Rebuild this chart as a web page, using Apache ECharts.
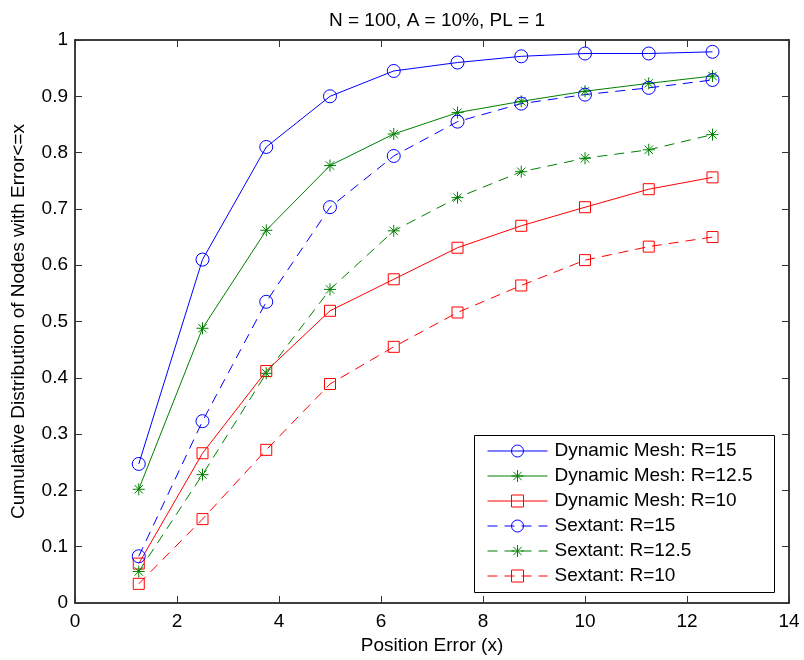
<!DOCTYPE html>
<html>
<head>
<meta charset="utf-8">
<script src="https://cdn.jsdelivr.net/npm/echarts@6/dist/echarts.min.js"></script>
<style>html,body{margin:0;padding:0;background:#fff}#c{width:804px;height:660px}</style>
</head>
<body>
<div id="c"></div>
<script>
const xValues = [1.25, 2.5, 3.75, 5, 6.25, 7.5, 8.75, 10, 11.25, 12.5];
const dmR15 = [0.247, 0.610, 0.810, 0.900, 0.945, 0.960, 0.971, 0.976, 0.976, 0.979];
const dmR125 = [0.202, 0.488, 0.662, 0.777, 0.833, 0.871, 0.891, 0.909, 0.923, 0.936];
const dmR10 = [0.070, 0.266, 0.412, 0.519, 0.575, 0.631, 0.670, 0.703, 0.735, 0.756];
const sxR15 = [0.083, 0.323, 0.535, 0.703, 0.794, 0.855, 0.887, 0.903, 0.915, 0.929];
const sxR125 = [0.056, 0.228, 0.408, 0.557, 0.661, 0.720, 0.766, 0.790, 0.805, 0.832];
const sxR10 = [0.034, 0.149, 0.272, 0.389, 0.455, 0.516, 0.564, 0.609, 0.633, 0.650];
const seriesNames = ['Dynamic Mesh: R=15', 'Dynamic Mesh: R=12.5', 'Dynamic Mesh: R=10', 'Sextant: R=15', 'Sextant: R=12.5', 'Sextant: R=10'];
const titleText = 'N = 100, A = 10%, PL = 1';
const xAxisName = 'Position Error (x)';
const yAxisName = 'Cumulative Distribution of Nodes with Error<=x';

const FONT = 'Liberation Sans';
const BLUE = '#0000ff', GREEN = '#008000', RED = '#ff0000';
const STAR = 'path://M0,5L10,5M5,0L5,10M1.5,1.5L8.5,8.5M8.5,1.5L1.5,8.5';

function mk(name, vals, color, symbol, size, dashed) {
  return {
    name: name,
    type: 'line',
    data: xValues.map((x, i) => [x, vals[i]]),
    symbol: symbol,
    symbolSize: size,
    showSymbol: true,
    animation: false,
    lineStyle: { color: color, width: 1, type: dashed ? [10, 7] : 'solid' },
    itemStyle: { color: 'rgba(0,0,0,0)', borderColor: color, borderWidth: 1 },
    emphasis: { disabled: true }
  };
}

const axisCommon = {
  axisLine: { show: true, onZero: false, lineStyle: { color: '#000', width: 1.5 } },
  axisTick: { show: true, inside: true, length: 7, lineStyle: { color: '#333', width: 1 } },
  splitLine: { show: false }
};

const chart = echarts.init(document.getElementById('c'), null, { renderer: 'canvas' });
chart.setOption({
  animation: false,
  backgroundColor: '#fff',
  title: {
    text: titleText, left: 432, top: 6, textAlign: 'center',
    textStyle: { fontFamily: FONT, fontSize: 19, fontWeight: 'normal', color: '#000' }
  },
  grid: { left: 75, right: 15, top: 40, bottom: 57 },
  xAxis: [
    Object.assign({}, axisCommon, {
      type: 'value', min: 0, max: 14, interval: 2, position: 'bottom',
      name: xAxisName, nameLocation: 'middle', nameGap: 30,
      nameTextStyle: { fontFamily: FONT, fontSize: 19, color: '#000' },
      axisLabel: { fontFamily: FONT, fontSize: 19, color: '#000', margin: 9 }
    }),
    Object.assign({}, axisCommon, {
      type: 'value', min: 0, max: 14, interval: 2, position: 'top',
      axisLabel: { show: false }
    })
  ],
  yAxis: [
    Object.assign({}, axisCommon, {
      type: 'value', min: 0, max: 1, interval: 0.1, position: 'left',
      name: yAxisName, nameLocation: 'middle', nameGap: 47, nameRotate: 90,
      nameTextStyle: { fontFamily: FONT, fontSize: 19, color: '#000' },
      axisLabel: { fontFamily: FONT, fontSize: 19, color: '#000', margin: 7 }
    }),
    Object.assign({}, axisCommon, {
      type: 'value', min: 0, max: 1, interval: 0.1, position: 'right',
      axisLabel: { show: false }
    })
  ],
  graphic: [{
    type: 'rect', left: 474, top: 435, z: 5,
    shape: { width: 300, height: 157 },
    style: { fill: '#fff', stroke: '#000', lineWidth: 1 }
  }],
  legend: {
    orient: 'vertical', left: 474, top: 435, z: 10,
    padding: [6, 8, 6, 13], itemGap: 5, itemWidth: 60, itemHeight: 15,
    backgroundColor: 'transparent',
    lineStyle: { width: 1 },
    itemStyle: { borderWidth: 1 },
    textStyle: { fontFamily: FONT, fontSize: 19, color: '#000', lineHeight: 20, padding: [0, 0, 0, 2] },
    selectedMode: false,
    data: seriesNames
  },
  series: [
    mk(seriesNames[0], dmR15, BLUE, 'circle', 13, false),
    mk(seriesNames[1], dmR125, GREEN, STAR, 12, false),
    mk(seriesNames[2], dmR10, RED, 'rect', 11, false),
    mk(seriesNames[3], sxR15, BLUE, 'circle', 13, true),
    mk(seriesNames[4], sxR125, GREEN, STAR, 12, true),
    mk(seriesNames[5], sxR10, RED, 'rect', 11, true)
  ]
});
</script>
</body>
</html>
